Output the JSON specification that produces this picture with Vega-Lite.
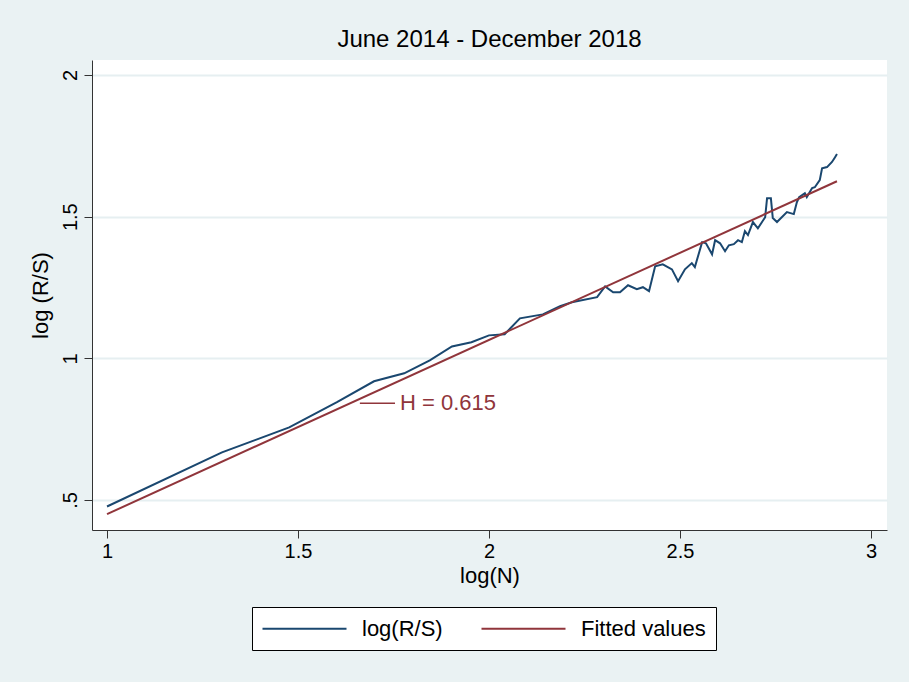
{
  "$schema": "https://vega.github.io/schema/vega-lite/v6.json",
  "width": 795,
  "height": 470,
  "autosize": {"type": "none"},
  "padding": {"left": 92, "top": 60, "right": 22, "bottom": 152},
  "background": "#EAF2F3",
  "config": {"view": {"fill": "white", "stroke": null}, "font": "Liberation Sans"},
  "title": {"text": "June 2014 - December 2018", "fontSize": 24, "fontWeight": "normal", "color": "black", "offset": 8, "anchor": "middle", "frame": "group", "font": "Liberation Sans"},
  "datasets": {
    "lines": [
      {"x": 1.0, "y": 0.477, "s": "log(R/S)"},
      {"x": 1.301, "y": 0.668, "s": "log(R/S)"},
      {"x": 1.477, "y": 0.756, "s": "log(R/S)"},
      {"x": 1.602, "y": 0.845, "s": "log(R/S)"},
      {"x": 1.699, "y": 0.919, "s": "log(R/S)"},
      {"x": 1.778, "y": 0.947, "s": "log(R/S)"},
      {"x": 1.845, "y": 0.993, "s": "log(R/S)"},
      {"x": 1.903, "y": 1.042, "s": "log(R/S)"},
      {"x": 1.954, "y": 1.057, "s": "log(R/S)"},
      {"x": 2.0, "y": 1.081, "s": "log(R/S)"},
      {"x": 2.041, "y": 1.085, "s": "log(R/S)"},
      {"x": 2.081, "y": 1.141, "s": "log(R/S)"},
      {"x": 2.141, "y": 1.155, "s": "log(R/S)"},
      {"x": 2.186, "y": 1.184, "s": "log(R/S)"},
      {"x": 2.217, "y": 1.198, "s": "log(R/S)"},
      {"x": 2.283, "y": 1.216, "s": "log(R/S)"},
      {"x": 2.304, "y": 1.254, "s": "log(R/S)"},
      {"x": 2.325, "y": 1.233, "s": "log(R/S)"},
      {"x": 2.343, "y": 1.233, "s": "log(R/S)"},
      {"x": 2.364, "y": 1.258, "s": "log(R/S)"},
      {"x": 2.387, "y": 1.244, "s": "log(R/S)"},
      {"x": 2.403, "y": 1.251, "s": "log(R/S)"},
      {"x": 2.419, "y": 1.237, "s": "log(R/S)"},
      {"x": 2.435, "y": 1.325, "s": "log(R/S)"},
      {"x": 2.455, "y": 1.332, "s": "log(R/S)"},
      {"x": 2.479, "y": 1.314, "s": "log(R/S)"},
      {"x": 2.495, "y": 1.272, "s": "log(R/S)"},
      {"x": 2.513, "y": 1.314, "s": "log(R/S)"},
      {"x": 2.531, "y": 1.336, "s": "log(R/S)"},
      {"x": 2.539, "y": 1.322, "s": "log(R/S)"},
      {"x": 2.558, "y": 1.41, "s": "log(R/S)"},
      {"x": 2.568, "y": 1.406, "s": "log(R/S)"},
      {"x": 2.584, "y": 1.367, "s": "log(R/S)"},
      {"x": 2.592, "y": 1.417, "s": "log(R/S)"},
      {"x": 2.605, "y": 1.406, "s": "log(R/S)"},
      {"x": 2.618, "y": 1.378, "s": "log(R/S)"},
      {"x": 2.628, "y": 1.399, "s": "log(R/S)"},
      {"x": 2.641, "y": 1.403, "s": "log(R/S)"},
      {"x": 2.652, "y": 1.417, "s": "log(R/S)"},
      {"x": 2.662, "y": 1.41, "s": "log(R/S)"},
      {"x": 2.67, "y": 1.449, "s": "log(R/S)"},
      {"x": 2.678, "y": 1.435, "s": "log(R/S)"},
      {"x": 2.691, "y": 1.481, "s": "log(R/S)"},
      {"x": 2.704, "y": 1.459, "s": "log(R/S)"},
      {"x": 2.723, "y": 1.498, "s": "log(R/S)"},
      {"x": 2.728, "y": 1.565, "s": "log(R/S)"},
      {"x": 2.738, "y": 1.565, "s": "log(R/S)"},
      {"x": 2.743, "y": 1.495, "s": "log(R/S)"},
      {"x": 2.754, "y": 1.481, "s": "log(R/S)"},
      {"x": 2.78, "y": 1.516, "s": "log(R/S)"},
      {"x": 2.798, "y": 1.509, "s": "log(R/S)"},
      {"x": 2.806, "y": 1.551, "s": "log(R/S)"},
      {"x": 2.812, "y": 1.569, "s": "log(R/S)"},
      {"x": 2.827, "y": 1.583, "s": "log(R/S)"},
      {"x": 2.832, "y": 1.569, "s": "log(R/S)"},
      {"x": 2.846, "y": 1.601, "s": "log(R/S)"},
      {"x": 2.853, "y": 1.604, "s": "log(R/S)"},
      {"x": 2.866, "y": 1.629, "s": "log(R/S)"},
      {"x": 2.872, "y": 1.671, "s": "log(R/S)"},
      {"x": 2.885, "y": 1.675, "s": "log(R/S)"},
      {"x": 2.898, "y": 1.693, "s": "log(R/S)"},
      {"x": 2.906, "y": 1.71, "s": "log(R/S)"},
      {"x": 2.911, "y": 1.721, "s": "log(R/S)"},
      {"x": 1.0, "y": 0.45, "s": "Fitted values"},
      {"x": 2.911, "y": 1.625, "s": "Fitted values"}
    ],
    "conn": [{"x": 1.662, "x2": 1.754, "y": 0.841}],
    "lab": [{"x": 1.767, "y": 0.841, "label": "H = 0.615"}]
  },
  "layer": [
    {
      "data": {"name": "lines"},
      "mark": {"type": "line", "strokeWidth": 2},
      "encoding": {
        "x": {"field": "x", "type": "quantitative",
          "scale": {"domain": [0.9607, 3.042], "nice": false, "zero": false},
          "axis": {"values": [1, 1.5, 2, 2.5, 3], "format": "~g", "title": "log(N)", "grid": false, "domainColor": "#333", "tickColor": "#333", "tickSize": 8, "labelFontSize": 20, "titleFontSize": 22, "titleFontWeight": "normal", "labelColor": "black", "titleColor": "black", "labelPadding": 3, "titlePadding": 4, "labelFont": "Liberation Sans", "titleFont": "Liberation Sans"}},
        "y": {"field": "y", "type": "quantitative",
          "scale": {"domain": [0.394, 2.053], "nice": false, "zero": false},
          "axis": {"values": [0.5, 1, 1.5, 2], "format": "~g", "title": "log (R/S)", "grid": true, "gridColor": "#E6EFF1", "gridWidth": 2, "domainColor": "#333", "tickColor": "#333", "tickSize": 8, "labelAngle": -90, "labelFontSize": 20, "titleFontSize": 22, "titleFontWeight": "normal", "labelColor": "black", "titleColor": "black", "labelPadding": 4, "titlePadding": 8, "labelExpr": "datum.value == 0.5 ? '.5' : datum.label", "labelFont": "Liberation Sans", "titleFont": "Liberation Sans"}},
        "color": {"field": "s", "type": "nominal",
          "scale": {"domain": ["log(R/S)", "Fitted values"], "range": ["#1a476f", "#90353b"]},
          "legend": {"orient": "none", "legendX": 160, "legendY": 547, "direction": "horizontal", "title": null, "symbolType": "M-4,0H4", "symbolSize": 441, "symbolStrokeWidth": 2, "symbolOffset": 31, "labelFontSize": 22, "labelColor": "black", "labelFont": "Liberation Sans", "strokeColor": "black", "fillColor": "white", "padding": 10, "labelOffset": 46, "columnPadding": 34, "labelExpr": "datum.label == 'Fitted values' ? datum.label + '  ' : datum.label"}}
      }
    },
    {
      "data": {"name": "conn"},
      "mark": {"type": "rule", "color": "#90353b", "strokeWidth": 1.5},
      "encoding": {
        "x": {"field": "x", "type": "quantitative"},
        "x2": {"field": "x2"},
        "y": {"field": "y", "type": "quantitative"}
      }
    },
    {
      "data": {"name": "lab"},
      "mark": {"type": "text", "color": "#90353b", "fontSize": 22, "align": "left", "baseline": "middle", "font": "Liberation Sans"},
      "encoding": {
        "x": {"field": "x", "type": "quantitative"},
        "y": {"field": "y", "type": "quantitative"},
        "text": {"field": "label"}
      }
    }
  ]
}
